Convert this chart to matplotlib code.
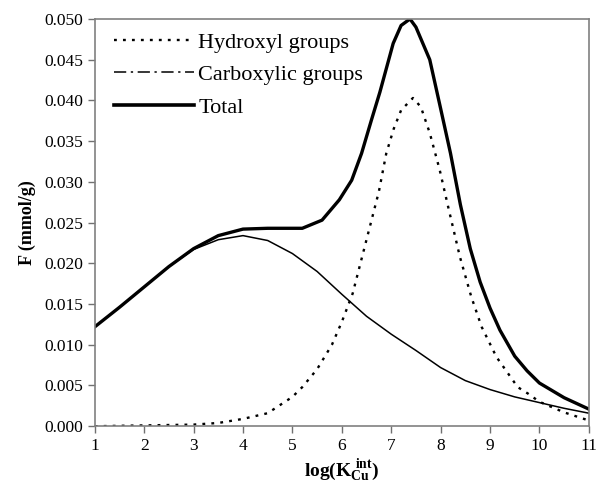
import matplotlib
matplotlib.use("Agg")
import matplotlib.pyplot as plt
from matplotlib.lines import Line2D

plt.rcParams["font.family"] = "Liberation Serif"
plt.rcParams["mathtext.fontset"] = "custom"
plt.rcParams["mathtext.rm"] = "Liberation Serif"
plt.rcParams["mathtext.bf"] = "Liberation Serif:bold"

# Data
x_tot = [1, 1.5, 2, 2.5, 3, 3.5, 4, 4.5, 5.2, 5.6, 5.95, 6.2, 6.4, 6.6, 6.77, 7.04, 7.2, 7.38, 7.5, 7.78, 8.0, 8.2, 8.4, 8.6, 8.8, 9.0, 9.2, 9.5, 9.75, 10.0, 10.5, 11]
total = [0.0122, 0.0146, 0.0171, 0.0196, 0.0218, 0.0234, 0.0242, 0.0243, 0.0243, 0.0253, 0.0278, 0.0302, 0.0335, 0.0376, 0.0410, 0.0470, 0.0492, 0.0500, 0.0490, 0.0450, 0.0390, 0.0335, 0.0272, 0.0218, 0.0177, 0.0145, 0.0118, 0.0086, 0.0068, 0.0053, 0.0035, 0.0021]

x_carb = [1, 1.5, 2, 2.5, 3, 3.5, 4, 4.5, 5, 5.5, 6, 6.5, 7, 7.5, 8, 8.5, 9, 9.5, 10, 10.5, 11]
carboxylic = [0.0122, 0.0146, 0.0171, 0.0196, 0.0217, 0.0229, 0.0234, 0.0228, 0.0212, 0.0190, 0.0162, 0.0135, 0.0113, 0.0093, 0.0072, 0.0056, 0.0045, 0.0036, 0.0029, 0.0022, 0.0016]

x_hyd = [1, 2, 3, 3.5, 4, 4.5, 5, 5.2, 5.5, 5.8, 6.0, 6.22, 6.5, 6.75, 6.9, 7.05, 7.2, 7.44, 7.6, 7.78, 7.98, 8.15, 8.39, 8.62, 8.83, 9.13, 9.56, 9.77, 10, 10.5, 11]
hydroxyl = [0.0000, 0.0001, 0.0002, 0.0004, 0.0009, 0.0016, 0.0036, 0.0048, 0.0070, 0.0100, 0.0128, 0.0163, 0.0229, 0.0288, 0.0335, 0.0365, 0.0388, 0.0403, 0.0392, 0.0360, 0.0315, 0.0270, 0.0208, 0.0159, 0.0122, 0.0085, 0.0048, 0.0040, 0.0030, 0.0017, 0.0007]

fig = plt.figure(figsize=(5.96, 4.86), dpi=100)
ax = fig.add_axes([0.159, 0.123, 0.829, 0.838])

ax.plot(x_hyd, hydroxyl, color="black", lw=1.7, linestyle=(0, (1.2, 2.6)))
ax.plot(x_carb, carboxylic, color="black", lw=1.1)
ax.plot(x_tot, total, color="black", lw=2.4)

ax.set_xlim(1, 11)
ax.set_ylim(0, 0.050)
ax.set_xticks(range(1, 12))
ax.set_yticks([i * 0.005 for i in range(11)])
ax.set_yticklabels(["%.3f" % (i * 0.005) for i in range(11)])
ax.tick_params(direction="out", length=5, width=1, labelsize=12.5, color="#707070")
for s in ax.spines.values():
    s.set_color("#808080")
    s.set_linewidth(1.2)

ax.set_ylabel("F (mmol/g)", fontsize=13, fontweight="bold", labelpad=6)
ax.set_xlabel(r"$\mathbf{log(K_{Cu}^{\ int})}$", fontsize=14, labelpad=2)

handles = [
    Line2D([], [], color="black", lw=1.7, linestyle=(0, (1.2, 2.6))),
    Line2D([], [], color="black", lw=1.1, linestyle=(0, (8, 3, 1.5, 3))),
    Line2D([], [], color="black", lw=2.6),
]
ax.legend(handles, ["Hydroxyl groups", "Carboxylic groups", "Total"], loc="upper left",
          bbox_to_anchor=(0.012, 1.0), frameon=False, fontsize=16, handlelength=3.6,
          handletextpad=0.2, labelspacing=0.53, borderaxespad=0.2)

fig.savefig("out.png", dpi=100)
